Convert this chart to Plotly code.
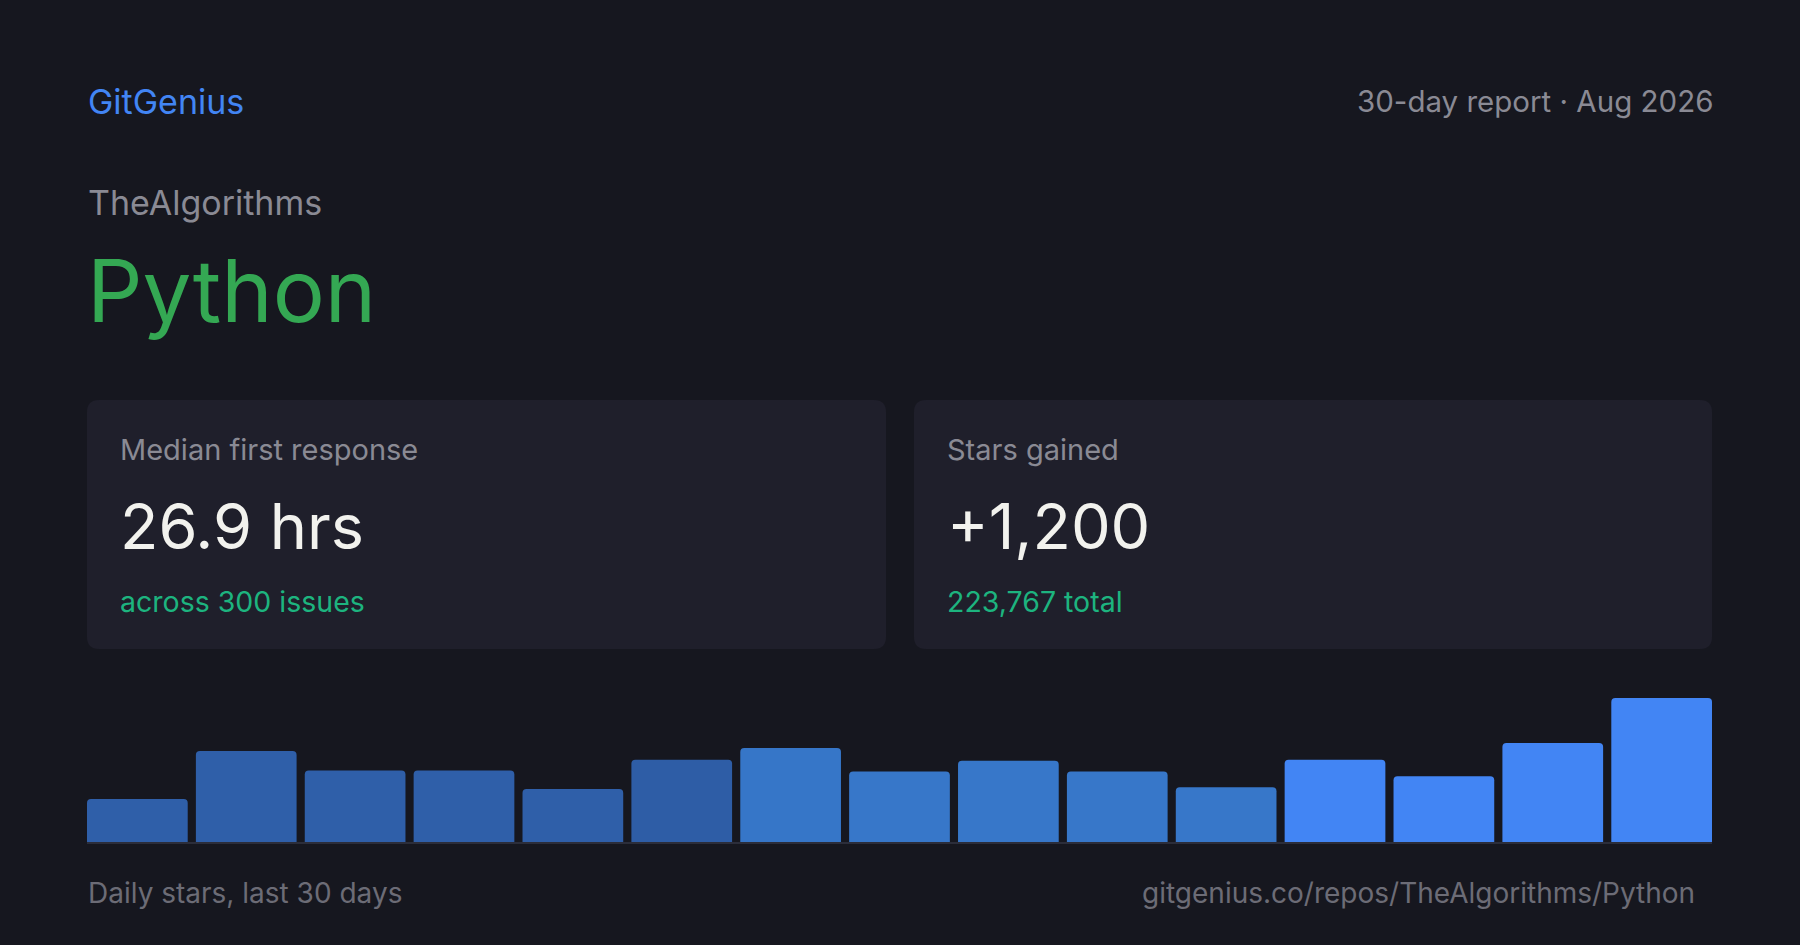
import plotly.graph_objects as go

# ---- data ----
periods = ["Day 1-2", "Day 3-4", "Day 5-6", "Day 7-8", "Day 9-10", "Day 11-12",
           "Day 13-14", "Day 15-16", "Day 17-18", "Day 19-20", "Day 21-22",
           "Day 23-24", "Day 25-26", "Day 27-28", "Day 29-30"]
stars = [44, 93, 73, 73, 54, 84, 96, 72, 83, 72, 56, 84, 67, 101, 147]
bar_colors = ["#2f5fa9", "#2f5fa9", "#2f5fa9", "#2f5fa9", "#2f5fa9", "#2e5da6",
              "#3676c8", "#3777c9", "#3777c9", "#3777c9", "#3777c9",
              "#4285f4", "#4285f4", "#4285f4", "#4285f4"]

brand = "GitGenius"
report = "30-day report · Aug 2026"
owner = "TheAlgorithms"
repo = "Python"
card_labels = ["Median first response", "Stars gained"]
card_values = ["26.9 hrs", "+1,200"]
card_subs = ["across 300 issues", "223,767 total"]
footer_left = "Daily stars, last 30 days"
footer_right = "gitgenius.co/repos/TheAlgorithms/Python"

W, H = 1800, 945
BG = "#16171f"
CARD = "#1f1f2b"
GRAY = "#8a8a94"
DIM = "#6c6c76"
FONT = "Inter"
GAP = 0.075


def px(x):
    return x / W


def py(y):
    return 1 - y / H


fig = go.Figure()
fig.add_trace(go.Bar(
    x=periods, y=stars,
    marker=dict(color=bar_colors, cornerradius=4, line=dict(width=0)),
    hoverinfo="x+y",
))

bar_left, bar_right = 87, 1712
bar_bottom, bar_top = 842, 698
n = len(periods)
fig.update_layout(
    width=W, height=H,
    margin=dict(l=0, r=0, t=0, b=0),
    paper_bgcolor=BG, plot_bgcolor=BG,
    showlegend=False,
    bargap=GAP,
    font=dict(family=FONT, color=GRAY),
    xaxis=dict(domain=[px(bar_left), px(bar_right)],
               range=[-0.5 + GAP / 2, n - 0.5 - GAP / 2],
               showgrid=False, showticklabels=False, ticks="", zeroline=False,
               showline=True, linecolor="#2b2d3a", linewidth=2,
               fixedrange=True),
    yaxis=dict(domain=[py(bar_bottom), py(bar_top)], range=[0, max(stars)],
               showgrid=False, showticklabels=False, zeroline=False,
               showline=False, fixedrange=True),
)


def rounded_rect(x0, y0, x1, y1, r):
    rx, ry = r / W, r / H
    X0, X1 = px(x0), px(x1)
    Y0, Y1 = py(y1), py(y0)  # bottom, top in paper
    return (f"M {X0+rx},{Y1} L {X1-rx},{Y1} Q {X1},{Y1} {X1},{Y1-ry} "
            f"L {X1},{Y0+ry} Q {X1},{Y0} {X1-rx},{Y0} "
            f"L {X0+rx},{Y0} Q {X0},{Y0} {X0},{Y0+ry} "
            f"L {X0},{Y1-ry} Q {X0},{Y1} {X0+rx},{Y1} Z")


cards = [(87, 400, 886, 649), (914, 400, 1712, 649)]
for (x0, y0, x1, y1) in cards:
    fig.add_shape(type="path", xref="paper", yref="paper",
                  path=rounded_rect(x0, y0, x1, y1, 12),
                  fillcolor=CARD, line=dict(width=0), layer="below")


def txt(text, x, y, size, color, anchor="left"):
    fig.add_annotation(text=text, x=px(x), y=py(y), xref="paper", yref="paper",
                       xanchor=anchor, yanchor="middle", showarrow=False,
                       font=dict(family=FONT, size=size, color=color))


txt(brand, 86, 101, 34, "#4285f4")
txt(report, 1715, 101.5, 29.5, GRAY, "right")
txt(owner, 86, 202.5, 34, GRAY)
txt(repo, 85, 290, 87, "#34a853")

for i, (x0, y0, x1, y1) in enumerate(cards):
    tx = x0 + 31
    txt(card_labels[i], tx, 449.5, 29, GRAY)
    txt(card_values[i], tx, 526, 63, "#f2f2ee")
    txt(card_subs[i], tx, 601, 28.5, "#1db47f")

txt(footer_left, 86, 893, 28, DIM)
txt(footer_right, 1697, 893, 28, DIM, "right")

fig.write_html(
    "out.html",
    config={"displayModeBar": False},
    post_script=(
        "document.documentElement.style.margin='0';"
        "document.body.style.margin='0';"
        "document.body.style.overflow='hidden';"
        "document.body.style.background='" + BG + "';"
    ),
)
